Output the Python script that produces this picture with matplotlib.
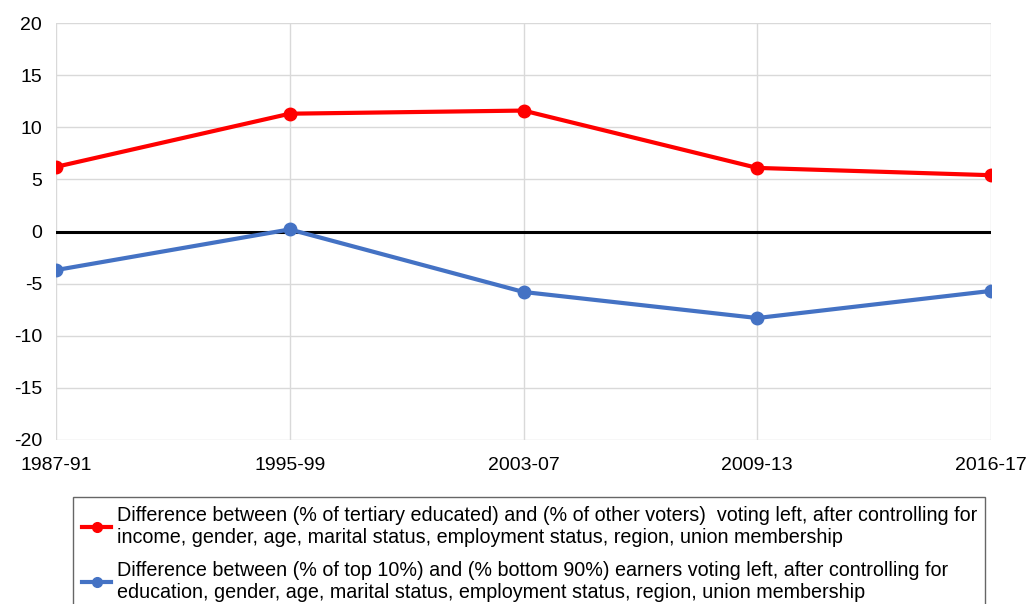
import matplotlib
matplotlib.use("Agg")
import matplotlib.pyplot as plt

categories = ["1987-91", "1995-99", "2003-07", "2009-13", "2016-17"]
educ_values = [6.2, 11.3, 11.6, 6.1, 5.4]
income_values = [-3.7, 0.2, -5.8, -8.3, -5.7]
series_labels = [
    "Difference between (% of tertiary educated) and (% of other voters)  voting left, after controlling for\nincome, gender, age, marital status, employment status, region, union membership",
    "Difference between (% of top 10%) and (% bottom 90%) earners voting left, after controlling for\neducation, gender, age, marital status, employment status, region, union membership",
]
yticks = [-20, -15, -10, -5, 0, 5, 10, 15, 20]

plt.rcParams['font.family'] = ['Liberation Sans', 'DejaVu Sans']
plt.rcParams['axes.unicode_minus'] = False

fig = plt.figure(figsize=(10.27, 6.04), dpi=100)
ax = fig.add_axes([56/1027, 1-440/604, (991-56)/1027, (440-23)/604])

x = list(range(len(categories)))
ax.plot(x, educ_values, color="#FF0000", lw=3, marker="o", ms=9, label=series_labels[0], zorder=4)
ax.plot(x, income_values, color="#4472C4", lw=3, marker="o", ms=9, label=series_labels[1], zorder=4)
ax.axhline(0, color="black", lw=2.2, zorder=3)

ax.set_xlim(0, len(categories)-1)
ax.set_ylim(-20, 20)
ax.set_yticks(yticks)
ax.set_xticks(x)
ax.set_xticklabels(categories)
ax.grid(True, color="#D9D9D9", lw=1)
ax.set_axisbelow(True)
for s in ax.spines.values():
    s.set_visible(False)
ax.tick_params(length=0, labelsize=14, colors="black", pad=10)
ax.tick_params(axis='x', pad=12)
for lbl in ax.get_xticklabels():
    lbl.set_clip_on(False)

leg = fig.legend(loc="upper left", bbox_to_anchor=(73/1027, 1-497/604 - 0.001, (985-73)/1027, 0.001),
                 mode="expand", fontsize=14.2, frameon=True, fancybox=False,
                 edgecolor="#404040", handlelength=1.5, handletextpad=0.3,
                 borderpad=0.45, labelspacing=0.7, borderaxespad=0)
leg.get_frame().set_linewidth(1)
for h in leg.legend_handles:
    h.set_markersize(7)

fig.savefig("out.png", dpi=100)
